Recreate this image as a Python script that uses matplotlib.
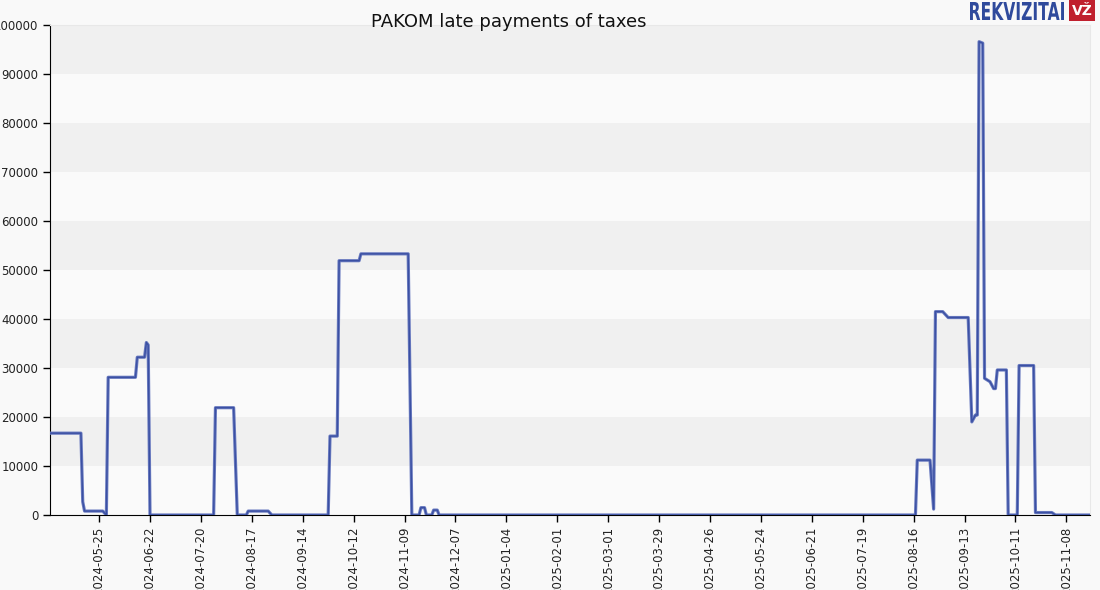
import matplotlib
matplotlib.use("Agg")
import matplotlib.pyplot as plt
import pandas as pd
from matplotlib.textpath import TextPath
from matplotlib.patches import PathPatch, Rectangle
from matplotlib.font_manager import FontProperties
from matplotlib.transforms import Affine2D

# ---------- Data ----------
dates = [
    "2024-04-28", "2024-05-15", "2024-05-16", "2024-05-17", "2024-05-27",
    "2024-05-29", "2024-05-30", "2024-06-14", "2024-06-15", "2024-06-19",
    "2024-06-20", "2024-06-21", "2024-06-22", "2024-07-27", "2024-07-28",
    "2024-08-07", "2024-08-09", "2024-08-14", "2024-08-15", "2024-08-26",
    "2024-08-28", "2024-09-28", "2024-09-29", "2024-10-03", "2024-10-04",
    "2024-10-15", "2024-10-16", "2024-11-11", "2024-11-13", "2024-11-17",
    "2024-11-18", "2024-11-20", "2024-11-21", "2024-11-24", "2024-11-25",
    "2024-11-27", "2024-11-28", "2025-08-17", "2025-08-18", "2025-08-25",
    "2025-08-27", "2025-08-28", "2025-09-01", "2025-09-04", "2025-09-15",
    "2025-09-17", "2025-09-19", "2025-09-20", "2025-09-21", "2025-09-23",
    "2025-09-24", "2025-09-27", "2025-09-29", "2025-09-30", "2025-10-01",
    "2025-10-06", "2025-10-07", "2025-10-12", "2025-10-13", "2025-10-21",
    "2025-10-22", "2025-10-31", "2025-11-02", "2025-11-21",
]
amounts = [
    16700, 16700, 2700, 800, 800,
    0, 28100, 28100, 32200, 32200,
    35200, 34700, 0, 0, 21900,
    21900, 0, 0, 800, 800,
    0, 0, 16100, 16100, 51900,
    51900, 53300, 53300, 0, 0,
    1500, 1500, 0, 0, 1000,
    1000, 0, 0, 11200, 11200,
    1200, 41500, 41500, 40300, 40300,
    19000, 20400, 20400, 96600, 96300,
    27900, 27200, 25800, 25800, 29600,
    29600, 0, 0, 30500, 30500,
    500, 500, 0, 0,
]
tick_dates = [
    "2024-05-25", "2024-06-22", "2024-07-20", "2024-08-17", "2024-09-14",
    "2024-10-12", "2024-11-09", "2024-12-07", "2025-01-04", "2025-02-01",
    "2025-03-01", "2025-03-29", "2025-04-26", "2025-05-24", "2025-06-21",
    "2025-07-19", "2025-08-16", "2025-09-13", "2025-10-11", "2025-11-08",
]
y_ticks = [0, 10000, 20000, 30000, 40000, 50000, 60000, 70000, 80000, 90000, 100000]

x = pd.to_datetime(dates)
ticks = pd.to_datetime(tick_dates)

W, H = 1100, 590
fig = plt.figure(figsize=(11, 5.9), dpi=100, facecolor="#f9f9f9")
ax = fig.add_axes([50 / W, 1 - 515 / H, 1040 / W, 490 / H])
ax.set_facecolor("#fafafa")

# alternating horizontal bands
for lo in range(10000, 100000, 20000):
    ax.axhspan(lo, lo + 10000, color="#f0f0f0", zorder=0, lw=0)

ax.plot(x, amounts, color="#6a7bc0", lw=2.3, zorder=3)
ax.plot(x, amounts, color="#3b50a3", lw=1.0, zorder=4)

ax.set_xlim(pd.Timestamp("2024-04-28"), pd.Timestamp("2025-11-21"))
ax.set_ylim(0, 100000)
ax.set_yticks(y_ticks)
ax.set_yticklabels([str(v) for v in y_ticks], fontsize=8.5, color="#222222")
ax.set_xticks(ticks)
ax.set_xticklabels(tick_dates, rotation=90, fontsize=8.5, color="#222222")
ax.tick_params(axis="both", length=5, width=1, color="#000000")

for side in ("top", "right"):
    ax.spines[side].set_color("#e8e8e8")
for side in ("left", "bottom"):
    ax.spines[side].set_color("#000000")

fig.text(509 / W, 1 - 22 / H, "PAKOM late payments of taxes",
         ha="center", va="center", fontsize=13, color="#111111")

# logo: condensed "REKVIZITAI" squeezed into its box, red "VŽ" badge
tp = TextPath((0, 0), "REKVIZITAI", size=20,
              prop=FontProperties(family="Liberation Sans Narrow", weight="bold"))
bb = tp.get_extents()
x0, x1, y0, y1 = 970, 1064, H - 20, H - 2   # target box in figure pixels (origin bottom-left)
tr = (Affine2D().translate(-bb.x0, -bb.y0)
      .scale((x1 - x0) / bb.width, (y1 - y0) / bb.height)
      .translate(x0, y0))
fig.patches.append(PathPatch(tr.transform_path(tp), fc="#2f4a9c", ec="none",
                             transform=None, figure=fig))
fig.patches.append(Rectangle((1069, H - 21), 26, 21, fc="#c0202e", ec="none",
                             transform=None, figure=fig))
fig.text(1082 / W, 1 - 11 / H, "VŽ", ha="center", va="center",
         fontsize=10, fontweight="bold", color="white")

fig.savefig("out.png", dpi=100, facecolor=fig.get_facecolor())
